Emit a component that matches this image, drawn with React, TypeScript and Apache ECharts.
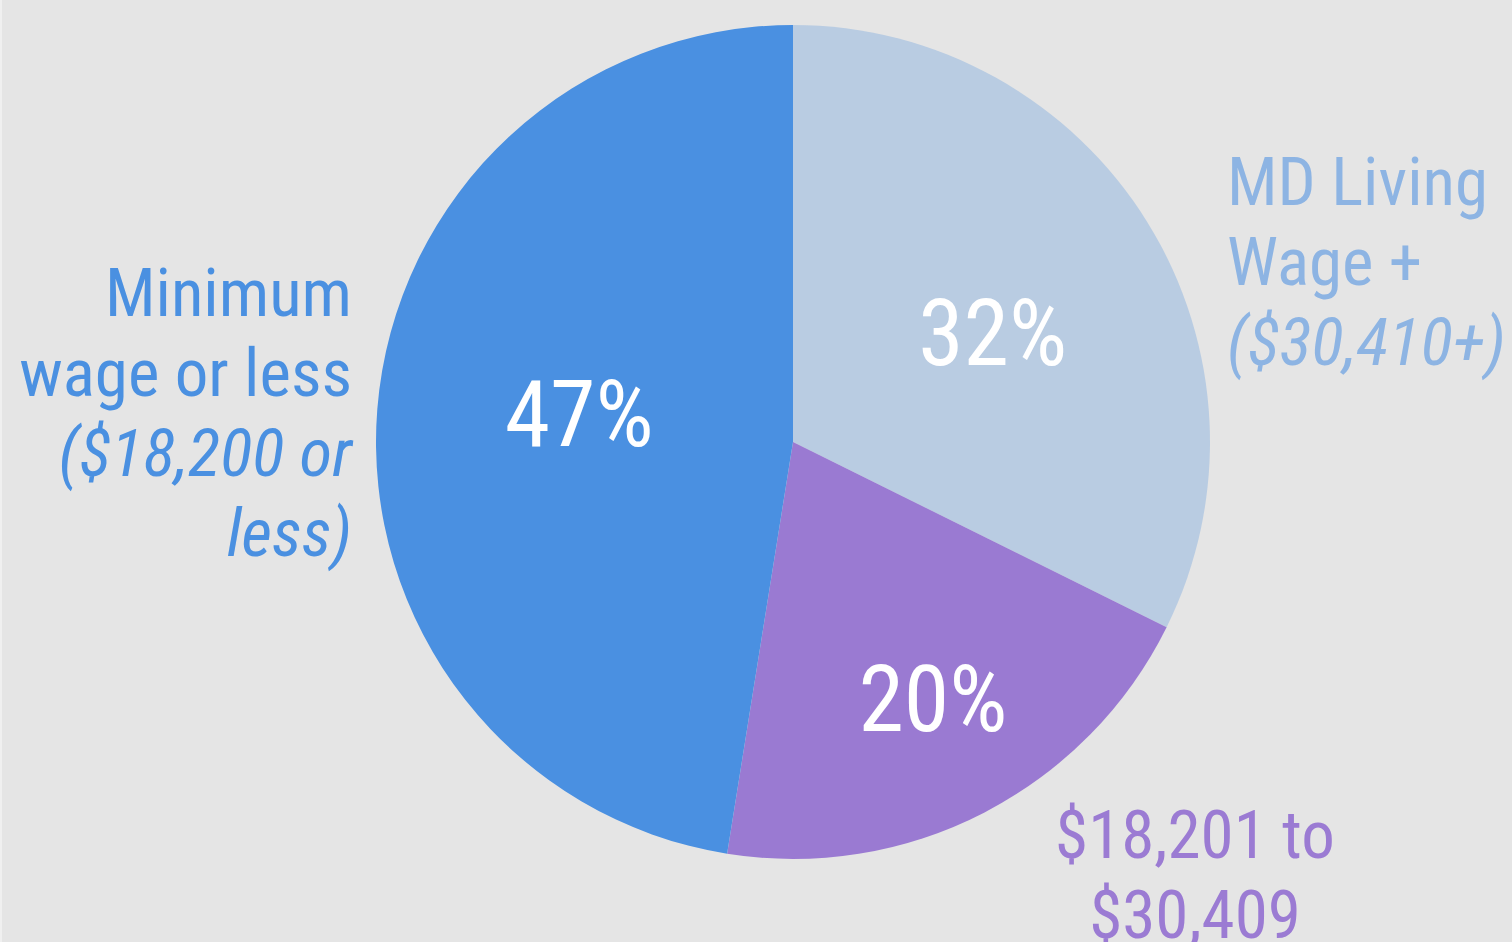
import React, { useEffect, useRef } from "react";
import * as echarts from "echarts";

const categories = ["MD Living Wage +", "$18,201 to $30,409", "Minimum wage or less"];
const values = [32, 20, 47];
const sliceColors = ["#b9cce2", "#9a7ad2", "#4a90e1"];
const labelColors = ["#8db4e3", "#9b7bd3", "#4a90e1"];

const FONT = "'Roboto Condensed', 'Liberation Sans Narrow', Roboto, sans-serif";

export default function App() {
  const ref = useRef<HTMLDivElement>(null);
  useEffect(() => {
    if (!ref.current) return;
    const chart = echarts.init(ref.current, null, { renderer: "svg" });
    const pctOffsets = [
      [20, 3],
      [43, 70],
      [-3, -11],
    ];
    chart.setOption({
      animation: false,
      backgroundColor: "#e5e5e5",
      series: [
        {
          type: "pie",
          center: [791, 442],
          radius: [0, 417],
          startAngle: 90,
          clockwise: true,
          silent: true,
          data: categories.map((name, i) => ({
            name,
            value: values[i],
            itemStyle: { color: sliceColors[i] },
          })),
          label: {
            show: true,
            position: "inside",
            formatter: (p: any) => `${p.value}%`,
            color: "#ffffff",
            fontFamily: FONT,
            fontSize: 92,
          },
          labelLine: { show: false },
          labelLayout: (p: any) => ({
            dx: pctOffsets[p.dataIndex][0],
            dy: pctOffsets[p.dataIndex][1],
          }),
        },
      ],
      graphic: [
        {
          type: "text",
          x: 350,
          y: 253,
          style: {
            text: "{n|Minimum}\n{n|wage or less}\n{i|($18,200 or}\n{i|less)}",
            align: "right",
            verticalAlign: "top",
            rich: {
              n: { fontFamily: FONT, fontSize: 67, lineHeight: 80, fill: labelColors[2], align: "right" },
              i: { fontFamily: FONT, fontSize: 67, lineHeight: 80, fill: labelColors[2], fontStyle: "italic", align: "right" },
            },
          },
        },
        {
          type: "text",
          x: 1225,
          y: 142,
          style: {
            text: "{n|MD Living}\n{n|Wage +}\n{i|($30,410+)}",
            align: "left",
            verticalAlign: "top",
            rich: {
              n: { fontFamily: FONT, fontSize: 67, lineHeight: 80, fill: labelColors[0] },
              i: { fontFamily: FONT, fontSize: 67, lineHeight: 80, fill: labelColors[0], fontStyle: "italic" },
            },
          },
        },
        {
          type: "text",
          x: 1193,
          y: 795,
          style: {
            text: "{n|$18,201 to}\n{n|$30,409}",
            align: "center",
            verticalAlign: "top",
            rich: {
              n: { fontFamily: FONT, fontSize: 67, lineHeight: 80, fill: labelColors[1], align: "center" },
            },
          },
        },
      ],
    });
    return () => chart.dispose();
  }, []);
  return (
    <div style={{ position: "absolute", left: 0, top: 0, width: 1512, height: 942, background: "#f0f0f0" }}>
      <div ref={ref} style={{ position: "absolute", left: 2, top: 0, width: 1510, height: 942 }} />
    </div>
  );
}
